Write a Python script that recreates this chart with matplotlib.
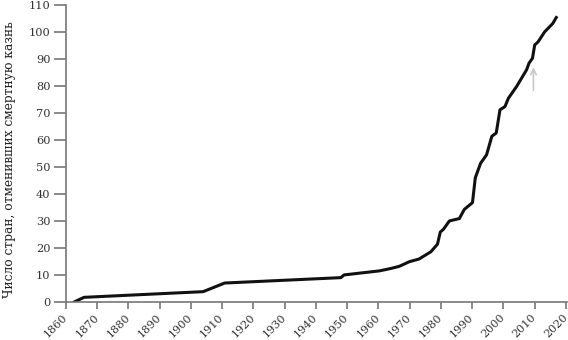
import matplotlib
matplotlib.use("Agg")
import matplotlib.pyplot as plt

years = [1862.7, 1865.8, 1903.9, 1910.8, 1948.0, 1949.0, 1955.0, 1960.3, 1964.0,
         1966.7, 1969.9, 1973.0, 1976.8, 1978.9, 1979.8, 1980.8, 1982.7, 1985.9,
         1987.5, 1990.1, 1991.0, 1992.7, 1994.6, 1996.3, 1997.7, 1998.9, 2000.5,
         2001.6, 2004.2, 2007.4, 2008.2, 2009.3, 2010.0, 2011.1, 2013.2, 2015.8,
         2016.9]
counts = [0, 1.7, 3.8, 7.0, 9.0, 10.0, 10.8, 11.5, 12.4,
          13.2, 14.9, 15.9, 18.6, 21.4, 25.9, 26.9, 30.0, 30.9,
          34.3, 36.8, 46.0, 51.4, 54.5, 61.4, 62.6, 71.2, 72.4,
          75.5, 79.8, 86.0, 88.5, 90.3, 95.2, 96.4, 100.1, 103.2,
          105.4]

xticks = list(range(1860, 2021, 10))
yticks = list(range(0, 111, 10))
ylabel = "Число стран, отменивших смертную казнь"

arrow_year = 2009.6
arrow_from = 77.4
arrow_to = 88.0

plt.rcParams['font.family'] = ['DejaVu Serif']
fig = plt.figure(figsize=(5.68, 3.4), dpi=100)
ax = fig.add_axes([0.116, 0.112, 0.882, 0.873])
ax.plot(years, counts, color='#111111', lw=2.2, solid_joinstyle='round')
ax.annotate('', xy=(arrow_year, arrow_to), xytext=(arrow_year, arrow_from),
            arrowprops=dict(arrowstyle='->', color='#c8c8c8', lw=1.2))
ax.set_xlim(1860, 2020.3)
ax.set_ylim(0, 110)
ax.set_xticks(xticks)
ax.set_yticks(yticks)
ax.set_xticklabels([str(x) for x in xticks], rotation=45, ha='right', va='center',
                   rotation_mode='anchor')
for s in ['top', 'right']:
    ax.spines[s].set_visible(False)
for s in ['left', 'bottom']:
    ax.spines[s].set_color('#777777')
    ax.spines[s].set_linewidth(1.2)
    ax.spines[s].set_clip_on(False)
ax.tick_params(axis='y', length=9, width=1.2, color='#777777', labelsize=8.2, labelcolor='#333333', pad=2)
ax.tick_params(axis='x', length=5, width=1.2, color='#777777', labelsize=8.0, labelcolor='#333333', pad=5)
ax.set_ylabel(ylabel, fontsize=8.8, color='#222222')
ax.yaxis.set_label_coords(-0.1, 0.48)
fig.savefig('out.png', dpi=100)
